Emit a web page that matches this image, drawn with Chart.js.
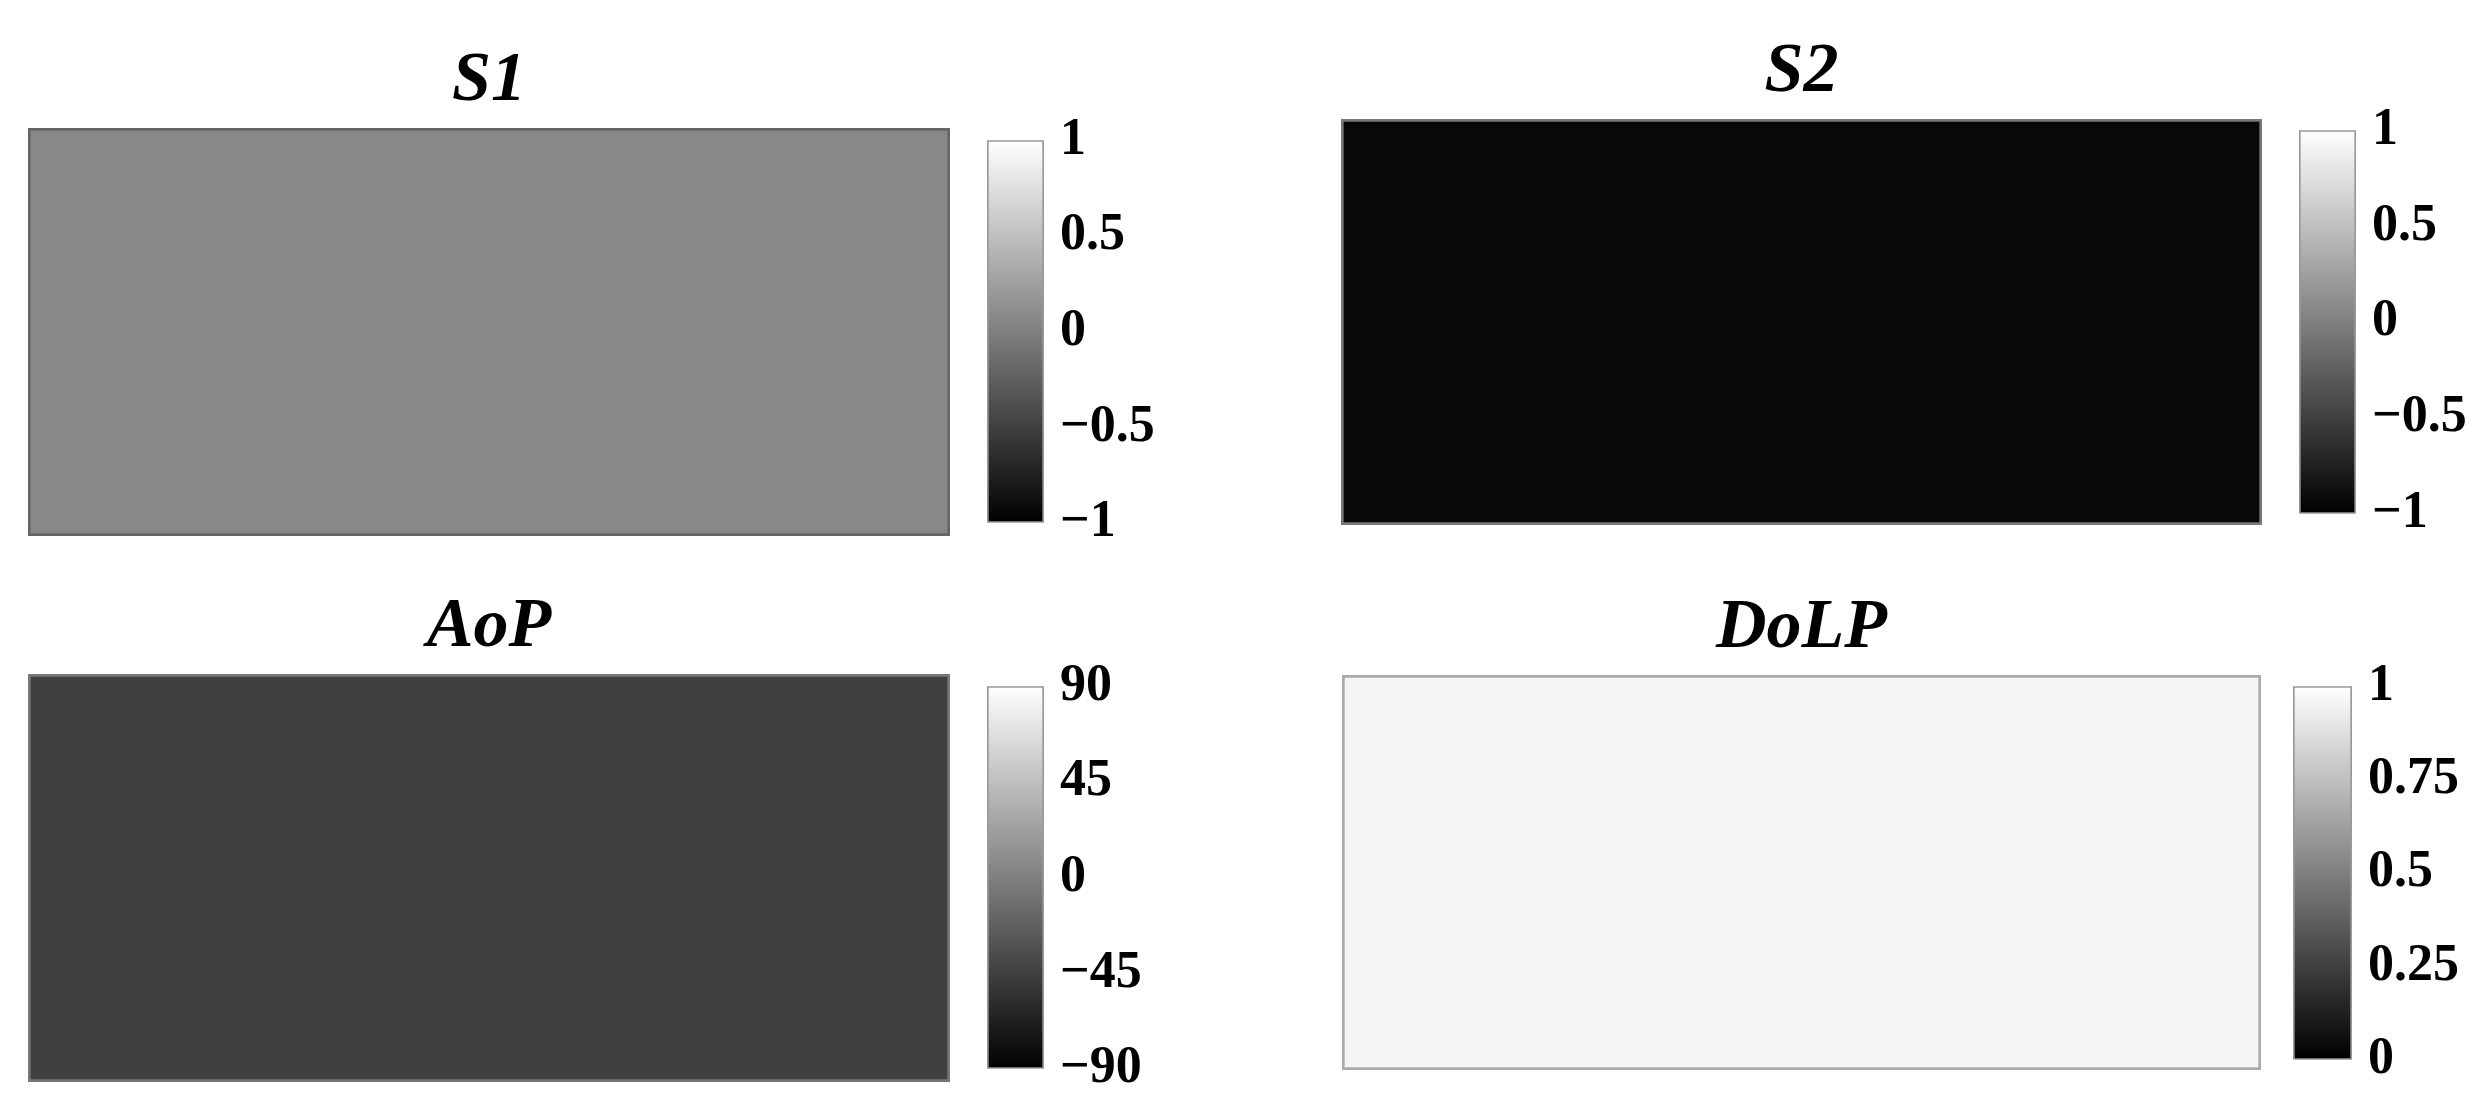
<!DOCTYPE html>
<html>
<head>
<meta charset="utf-8">
<script src="https://cdn.jsdelivr.net/npm/chart.js@4/dist/chart.umd.min.js"></script>
<style>
  html, body { margin: 0; padding: 0; background: #fff; }
  body { width: 2479px; height: 1118px; position: relative; overflow: hidden; }
  .box { position: absolute; }
</style>
</head>
<body>
<script>
// values
var titles = ['S1', 'S2', 'AoP', 'DoLP'];
var meanValues = [0.07, -0.94, -45, 0.96];
var cbMin = [-1, -1, -90, 0];
var cbMax = [1, 1, 90, 1];
var cbTicks = [
  [-1, -0.5, 0, 0.5, 1],
  [-1, -0.5, 0, 0.5, 1],
  [-90, -45, 0, 45, 90],
  [0, 0.25, 0.5, 0.75, 1]
];

// where each panel sits on the page (image box, colorbar box)
var layout = [
  { img: [28, 128, 922, 408], cb: [987, 129, 57, 405], edge: '#666' },
  { img: [1341, 119, 921, 406], cb: [2299, 119, 57, 406], edge: '#777' },
  { img: [28, 674, 922, 408], cb: [987, 675, 57, 405], edge: '#777' },
  { img: [1342, 675, 919, 395], cb: [2293, 675, 59, 396], edge: '#aaa' }
];

var TITLE_SPACE = 130;
var AXIS_W = 190;
var PAD_V = 36;

function grayOf(v, lo, hi) {
  var t = (v - lo) / (hi - lo);
  t = Math.max(0, Math.min(1, t));
  var g = Math.round(t * 255);
  return 'rgb(' + g + ',' + g + ',' + g + ')';
}

function fmt(v) {
  if (v < 0) return '\u2212' + String(-v);
  return String(v);
}

function makeCanvas(x, y, w, h) {
  var d = document.createElement('div');
  d.className = 'box';
  d.style.left = x + 'px';
  d.style.top = y + 'px';
  d.style.width = w + 'px';
  d.style.height = h + 'px';
  var c = document.createElement('canvas');
  d.appendChild(c);
  document.body.appendChild(d);
  return c;
}

titles.forEach(function(name, i) {
  var L = layout[i];

  // the image itself: one cell at the mean value
  var ic = makeCanvas(L.img[0], L.img[1] - TITLE_SPACE, L.img[2], L.img[3] + TITLE_SPACE);
  new Chart(ic, {
    type: 'bar',
    data: {
      labels: [name],
      datasets: [{
        data: [[cbMin[i], cbMax[i]]],
        backgroundColor: grayOf(meanValues[i], cbMin[i], cbMax[i]),
        borderColor: L.edge,
        borderWidth: 3,
        borderSkipped: false,
        barPercentage: 1,
        categoryPercentage: 1
      }]
    },
    options: {
      responsive: true,
      maintainAspectRatio: false,
      animation: false,
      layout: { padding: 0 },
      plugins: {
        legend: { display: false },
        tooltip: { enabled: false },
        title: {
          display: true,
          text: name,
          color: '#000',
          font: { family: "'Liberation Serif', 'DejaVu Serif', serif", size: 70, style: 'italic', weight: 'bold' },
          padding: { top: TITLE_SPACE - 46 - 42, bottom: 4 }
        }
      },
      scales: {
        x: { display: false, offset: true },
        y: { display: false, min: cbMin[i], max: cbMax[i] }
      }
    }
  });

  // colorbar
  var cc = makeCanvas(L.cb[0], L.cb[1] - PAD_V, L.cb[2] + AXIS_W, L.cb[3] + 2 * PAD_V);
  new Chart(cc, {
    type: 'bar',
    data: {
      labels: ['cb'],
      datasets: [{
        data: [[cbMin[i], cbMax[i]]],
        backgroundColor: function(ctx) {
          var area = ctx.chart.chartArea;
          if (!area) return '#888';
          var g = ctx.chart.ctx.createLinearGradient(0, area.bottom, 0, area.top);
          g.addColorStop(0, '#000');
          g.addColorStop(1, '#fff');
          return g;
        },
        borderColor: '#999',
        borderWidth: 2,
        borderSkipped: false,
        barPercentage: 1,
        categoryPercentage: 1
      }]
    },
    options: {
      responsive: true,
      maintainAspectRatio: false,
      animation: false,
      layout: { padding: { top: PAD_V, bottom: PAD_V, left: 0, right: 0 } },
      plugins: { legend: { display: false }, tooltip: { enabled: false } },
      scales: {
        x: { display: false, offset: true },
        y: {
          position: 'right',
          min: cbMin[i],
          max: cbMax[i],
          grid: { display: false, drawTicks: false },
          border: { display: false },
          afterBuildTicks: function(axis) {
            axis.ticks = cbTicks[i].map(function(v) { return { value: v }; });
          },
          afterFit: function(axis) { axis.width = AXIS_W; },
          ticks: {
            color: '#000',
            padding: 16,
            align: 'center',
            crossAlign: 'near',
            font: { family: "'Liberation Serif', 'DejaVu Serif', serif", size: 52, weight: 'bold' },
            callback: function(v) { return fmt(v); }
          }
        }
      }
    }
  });
});
</script>
</body>
</html>
